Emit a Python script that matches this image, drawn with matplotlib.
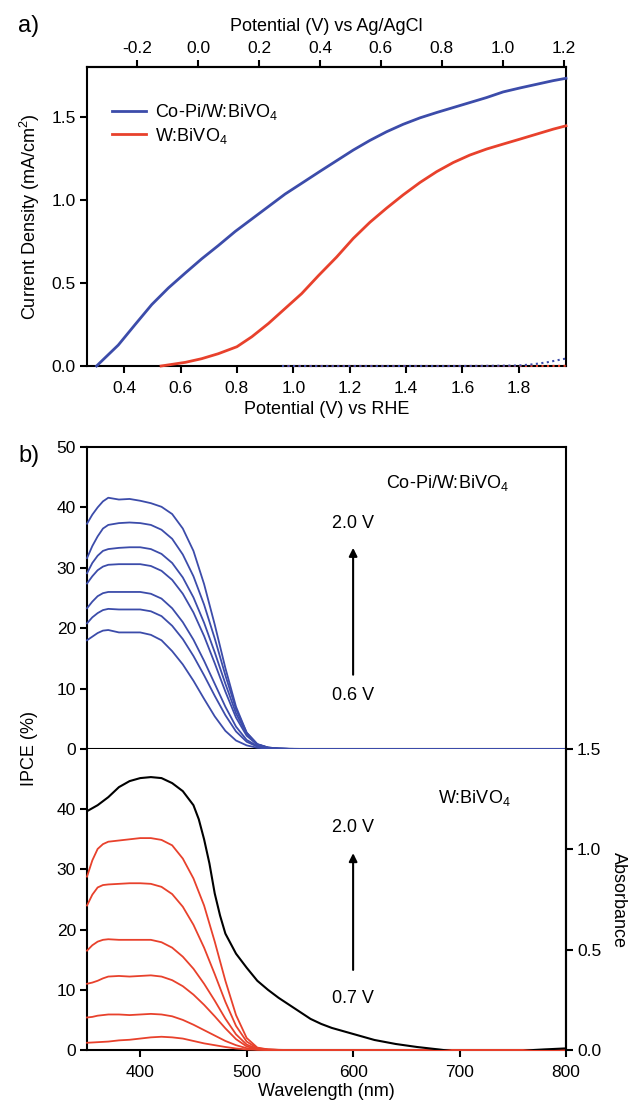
import numpy as np
import matplotlib
matplotlib.use("Agg")
import matplotlib.pyplot as plt

plt.rcParams['font.family'] = ['Liberation Sans', 'DejaVu Sans']
plt.rcParams['mathtext.fontset'] = 'custom'
plt.rcParams['mathtext.rm'] = 'Liberation Sans'
plt.rcParams['mathtext.it'] = 'Liberation Sans:italic'
plt.rcParams['axes.unicode_minus'] = False

# ---------------- Panel a data: J-V curves ----------------
v_copi = [0.302, 0.33, 0.379, 0.439, 0.498, 0.557, 0.617, 0.675, 0.734, 0.794, 0.853,
          0.912, 0.971, 1.030, 1.095, 1.154, 1.213, 1.272, 1.331, 1.39, 1.45, 1.509,
          1.568, 1.627, 1.686, 1.745, 1.805, 1.864, 1.923, 1.968]
j_copi = [0.0, 0.046, 0.126, 0.25, 0.37, 0.47, 0.56, 0.645, 0.725, 0.81, 0.885,
          0.96, 1.035, 1.10, 1.172, 1.236, 1.3, 1.358, 1.41, 1.455, 1.494, 1.526,
          1.556, 1.586, 1.616, 1.65, 1.674, 1.696, 1.718, 1.732]
v_w = [0.531, 0.617, 0.675, 0.734, 0.800, 0.853, 0.912, 0.971, 1.030, 1.09, 1.154,
       1.213, 1.272, 1.331, 1.39, 1.45, 1.509, 1.568, 1.627, 1.686, 1.745, 1.805,
       1.864, 1.923, 1.968]
j_w = [0.0, 0.022, 0.044, 0.074, 0.116, 0.176, 0.256, 0.346, 0.436, 0.545, 0.656,
       0.768, 0.865, 0.95, 1.03, 1.105, 1.17, 1.225, 1.27, 1.306, 1.336, 1.366,
       1.396, 1.426, 1.446]
v_dark = [0.96, 1.2, 1.4, 1.6, 1.7, 1.8, 1.85, 1.9, 1.968]
j_dark_copi = [0.0, 0.0, 0.0, 0.0, 0.001, 0.003, 0.01, 0.022, 0.045]
j_dark_w = [0.0, 0.0, 0.0, 0.0, 0.0, 0.0, 0.0, 0.0, 0.001]

# ---------------- Panel b data: IPCE spectra ----------------
wl = [350, 355, 360, 365, 370, 380, 390, 400, 410, 420, 430, 440, 450, 460, 470,
      480, 490, 500, 510, 520, 530, 540, 560, 600, 700, 800]
ipce_copi = [
    [37.3, 38.8, 40.0, 41.0, 41.6, 41.3, 41.4, 41.1, 40.7, 40.1, 38.9, 36.5, 32.8, 27.3, 20.6, 13.4, 7.0, 2.7, 0.8, 0.25, 0.08, 0.03, 0, 0, 0, 0],
    [31.6, 33.6, 35.2, 36.5, 37.1, 37.4, 37.5, 37.4, 37.1, 36.3, 34.8, 32.2, 28.6, 23.9, 18.3, 12.2, 6.6, 2.7, 0.8, 0.25, 0.08, 0.03, 0, 0, 0, 0],
    [29.1, 30.8, 32.0, 32.8, 33.1, 33.3, 33.4, 33.4, 33.1, 32.3, 30.8, 28.4, 25.1, 20.9, 16.0, 10.8, 5.9, 2.5, 0.75, 0.22, 0.07, 0.02, 0, 0, 0, 0],
    [27.4, 28.6, 29.6, 30.2, 30.5, 30.6, 30.6, 30.6, 30.3, 29.5, 28.0, 25.7, 22.6, 18.7, 14.2, 9.5, 5.2, 2.2, 0.7, 0.2, 0.06, 0.02, 0, 0, 0, 0],
    [23.3, 24.4, 25.3, 25.8, 26.0, 26.0, 26.0, 26.0, 25.7, 24.9, 23.3, 21.0, 18.1, 14.6, 10.8, 7.0, 3.7, 1.5, 0.5, 0.15, 0.05, 0.02, 0, 0, 0, 0],
    [20.8, 21.8, 22.5, 23.0, 23.2, 23.1, 23.1, 23.1, 22.8, 22.0, 20.4, 18.2, 15.4, 12.2, 8.8, 5.6, 2.9, 1.2, 0.4, 0.12, 0.04, 0.01, 0, 0, 0, 0],
    [18.0, 18.6, 19.2, 19.6, 19.7, 19.3, 19.3, 19.3, 18.9, 18.0, 16.2, 14.0, 11.3, 8.3, 5.4, 3.0, 1.4, 0.6, 0.2, 0.08, 0.03, 0.01, 0, 0, 0, 0],
]
ipce_w = [
    [28.8, 31.5, 33.4, 34.2, 34.6, 34.8, 35.0, 35.2, 35.2, 34.9, 34.0, 31.8, 28.5, 24.0, 18.0, 11.5, 5.8, 2.0, 0.4, 0.1, 0.03, 0, 0, 0, 0, 0],
    [24.0, 25.8, 27.0, 27.4, 27.5, 27.6, 27.7, 27.7, 27.6, 27.1, 25.9, 23.8, 20.8, 17.0, 12.6, 8.0, 4.0, 1.4, 0.3, 0.08, 0.02, 0, 0, 0, 0, 0],
    [16.5, 17.4, 18.0, 18.3, 18.4, 18.3, 18.3, 18.3, 18.3, 17.9, 17.0, 15.5, 13.5, 11.0, 8.2, 5.2, 2.6, 0.9, 0.2, 0.05, 0.01, 0, 0, 0, 0, 0],
    [11.0, 11.2, 11.5, 11.9, 12.2, 12.3, 12.2, 12.3, 12.4, 12.2, 11.6, 10.6, 9.2, 7.5, 5.6, 3.6, 1.8, 0.6, 0.15, 0.04, 0.01, 0, 0, 0, 0, 0],
    [5.4, 5.5, 5.7, 5.8, 5.9, 5.9, 5.8, 5.9, 6.0, 5.9, 5.6, 5.0, 4.2, 3.3, 2.4, 1.5, 0.8, 0.3, 0.08, 0.02, 0, 0, 0, 0, 0, 0],
    [1.2, 1.25, 1.3, 1.35, 1.4, 1.6, 1.7, 1.9, 2.1, 2.2, 2.1, 1.9, 1.5, 1.1, 0.8, 0.5, 0.25, 0.1, 0.03, 0.0, 0, 0, 0, 0, 0, 0],
]
wl_abs = [350, 360, 370, 380, 390, 400, 410, 420, 430, 440, 450, 455, 460, 465, 470,
          475, 480, 490, 500, 510, 520, 530, 540, 550, 560, 570, 580, 600, 620, 640,
          660, 680, 700, 720, 740, 760, 770, 780, 800]
absorb = [1.19, 1.22, 1.26, 1.31, 1.34, 1.355, 1.36, 1.355, 1.33, 1.29, 1.22, 1.15,
          1.05, 0.93, 0.78, 0.67, 0.58, 0.48, 0.41, 0.345, 0.30, 0.26, 0.225, 0.19,
          0.155, 0.13, 0.11, 0.08, 0.05, 0.03, 0.015, 0.003, -0.01, -0.02, -0.015,
          -0.005, 0.0, 0.003, 0.008]

BLUE = '#3C4CAA'
RED = '#E8412C'
FS = 13
TFS = 12.5

W, H = 628, 1101
fig = plt.figure(figsize=(W / 100, H / 100), dpi=100)
L, R = 87, 566


def box(top, bot):
    return [L / W, 1 - bot / H, (R - L) / W, (bot - top) / H]


def style(ax):
    for s in ax.spines.values():
        s.set_linewidth(1.5)
    ax.tick_params(direction='out', length=5, width=1.5, labelsize=TFS, pad=3)
    ax.tick_params(axis='x', pad=6)


# ---------------- Panel a ----------------
axA = fig.add_axes(box(67, 366))
style(axA)
axA.plot(v_copi, j_copi, color=BLUE, lw=2.0, label='Co-Pi/W:BiVO$_4$', zorder=3, clip_on=False)
axA.plot(v_w, j_w, color=RED, lw=2.0, label='W:BiVO$_4$', zorder=3, clip_on=False)
axA.plot(v_dark, j_dark_w, color=RED, lw=1.5, ls=':', zorder=3, clip_on=False)
axA.plot(v_dark, j_dark_copi, color=BLUE, lw=1.5, ls=':', zorder=3, clip_on=False)
axA.set_xlim(0.268, 1.968)
axA.set_ylim(0, 1.8)
axA.set_xticks([0.4, 0.6, 0.8, 1.0, 1.2, 1.4, 1.6, 1.8])
axA.set_xticklabels(['0.4', '0.6', '0.8', '1.0', '1.2', '1.4', '1.6', '1.8'])
axA.set_yticks([0, 0.5, 1.0, 1.5])
axA.set_yticklabels(['0.0', '0.5', '1.0', '1.5'])
axA.tick_params(top=False, right=False)
axA.set_xlabel('Potential (V) vs RHE', fontsize=FS)
axA.xaxis.set_label_coords(0.5, (366 - 410) / 299)
axA.xaxis.label.set_va('center')
axA.set_ylabel('Current Density (mA/cm$^2$)', fontsize=FS)
axA.yaxis.set_label_coords((30 - L) / (R - L), 0.5)
axA.yaxis.label.set_va('center')

a_s, b_s = 0.9253, -0.613
sec = axA.secondary_xaxis('top', functions=(lambda x: a_s * x + b_s, lambda t: (t - b_s) / a_s))
sec.set_xticks([-0.2, 0.0, 0.2, 0.4, 0.6, 0.8, 1.0, 1.2])
sec.set_xticklabels(['-0.2', '0.0', '0.2', '0.4', '0.6', '0.8', '1.0', '1.2'])
sec.tick_params(direction='out', length=5, width=1.5, labelsize=TFS, pad=3)
sec.spines['top'].set_linewidth(1.5)
sec.set_xlabel('Potential (V) vs Ag/AgCl', fontsize=FS, labelpad=7)

axA.legend(loc='upper left', bbox_to_anchor=((112 - L) / (R - L), (366 - 102) / 299),
           frameon=False, fontsize=FS, handlelength=1.9, handletextpad=0.5,
           labelspacing=0.2, borderpad=0, borderaxespad=0)
fig.text(29 / W, 1 - 26 / H, 'a)', fontsize=17, ha='center', va='center')

# ---------------- Panel b ----------------
axU = fig.add_axes(box(447, 749))
axL = fig.add_axes(box(749, 1050))
style(axU)
style(axL)
axR = axL.twinx()
style(axR)

for y in ipce_copi:
    axU.plot(wl, y, color=BLUE, lw=1.3, zorder=3, clip_on=False)
axU.set_xlim(350, 800)
axU.set_ylim(0, 50)
axU.set_yticks([0, 10, 20, 30, 40, 50])
axU.tick_params(bottom=False, labelbottom=False, top=False, right=False)
axU.text(689, 44, 'Co-Pi/W:BiVO$_4$', fontsize=FS, ha='center', va='center')
axU.text(600, 37.4, '2.0 V', fontsize=FS, ha='center', va='center')
axU.text(600, 8.9, '0.6 V', fontsize=FS, ha='center', va='center')
axU.annotate('', xy=(600, 33.3), xytext=(600, 12.3),
             arrowprops=dict(arrowstyle='-|>', lw=1.5, color='black',
                             mutation_scale=12, shrinkA=0, shrinkB=0))

for y in ipce_w:
    axL.plot(wl, y, color=RED, lw=1.3, zorder=3, clip_on=False)
axL.set_xlim(350, 800)
axL.set_ylim(0, 50)
axL.set_yticks([0, 10, 20, 30, 40])
axL.set_xticks([400, 500, 600, 700, 800])
axL.spines['top'].set_visible(False)
axL.tick_params(top=False, right=False)
axL.text(714, 41.9, 'W:BiVO$_4$', fontsize=FS, ha='center', va='center')
axL.text(600, 37.0, '2.0 V', fontsize=FS, ha='center', va='center')
axL.text(600, 8.6, '0.7 V', fontsize=FS, ha='center', va='center')
axL.annotate('', xy=(600, 32.7), xytext=(600, 13.3),
             arrowprops=dict(arrowstyle='-|>', lw=1.5, color='black',
                             mutation_scale=12, shrinkA=0, shrinkB=0))
axL.set_xlabel('Wavelength (nm)', fontsize=FS)
axL.xaxis.set_label_coords(0.5, (1050 - 1092) / 301)
axL.xaxis.label.set_va('center')
axL.set_ylabel('IPCE (%)', fontsize=FS)
axL.yaxis.set_label_coords((30 - L) / (R - L), (1050 - 748) / 301)
axL.yaxis.label.set_va('center')

axR.plot(wl_abs, absorb, color='black', lw=1.5, zorder=3)
axR.set_ylim(0, 1.5)
axR.set_yticks([0.0, 0.5, 1.0, 1.5])
axR.set_yticklabels(['0.0', '0.5', '1.0', '1.5'])
for s in ['top', 'bottom', 'left']:
    axR.spines[s].set_visible(False)
axR.set_ylabel('Absorbance', fontsize=FS, rotation=270)
axR.yaxis.set_label_coords((618 - L) / (R - L), 0.5)
axR.yaxis.label.set_va('center')
axR.yaxis.label.set_ha('center')

fig.text(29 / W, 1 - 456 / H, 'b)', fontsize=17, ha='center', va='center')

fig.savefig('out.png', dpi=100)
